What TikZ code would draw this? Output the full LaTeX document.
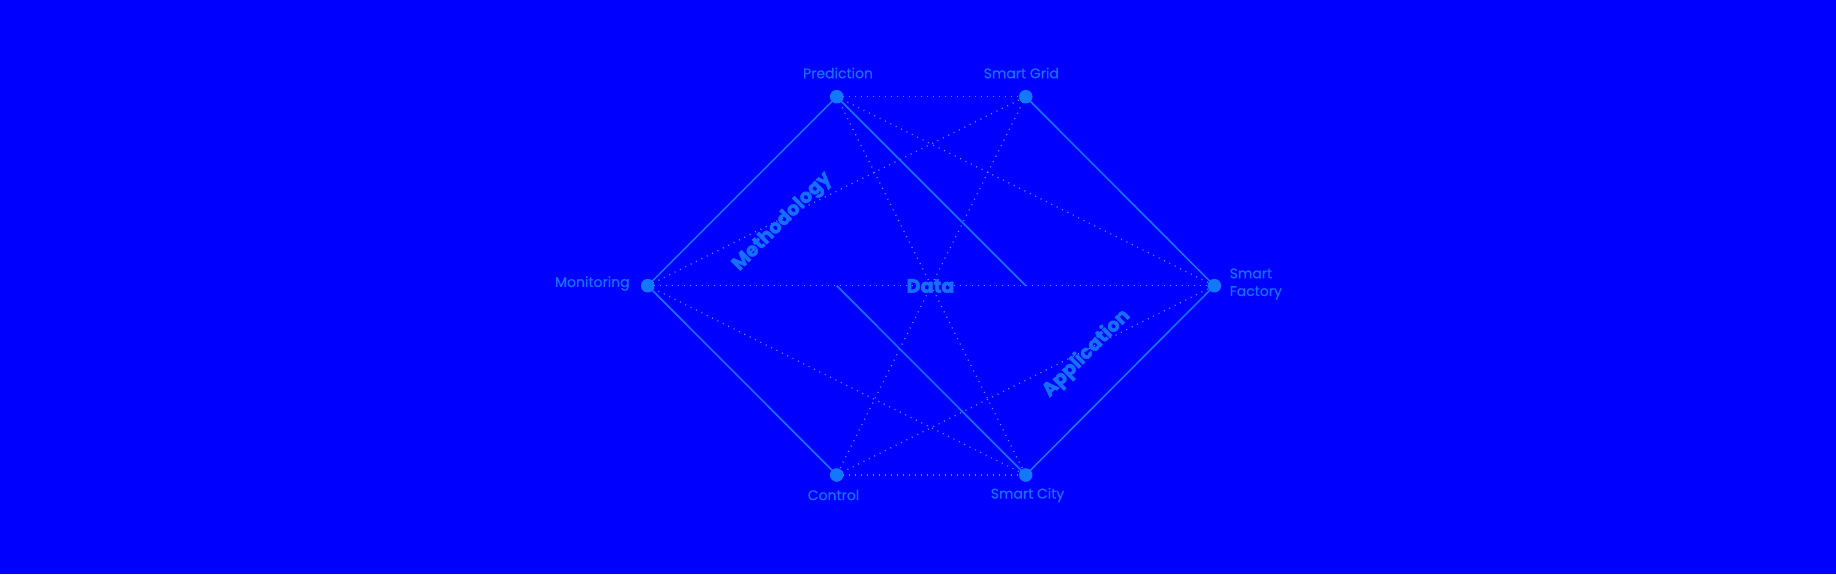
\documentclass[tikz,border=0pt]{standalone}
\usepackage{fontspec}
\setmainfont{Poppins}
\newfontfamily\heavyfont{Poppins}[BoldFeatures={FakeBold=2.5}]
\newfontfamily\medfont{Poppins}[FakeBold=0.5]
\definecolor{bg}{RGB}{0,0,255}
\definecolor{ln}{RGB}{20,120,255}
\definecolor{dt}{RGB}{95,135,255}
\definecolor{tx}{RGB}{22,112,255}
\begin{document}
\begin{tikzpicture}[x=0.5pt,y=-0.5pt,
  dotnode/.style={circle,fill=ln,inner sep=0pt,minimum size=6.8pt},
  lbl/.style={text=tx,font=\medfont\fontsize{7}{8.85}\selectfont,inner sep=0pt},
  big/.style={text=tx,font=\heavyfont\bfseries\fontsize{9.6}{11}\selectfont,inner sep=0pt},
  solidline/.style={draw=ln,line width=0.75pt},
  dotline/.style={draw=dt,line width=0.65pt,dash pattern=on 0.5pt off 2.5pt}]
\fill[bg] (0,0) rectangle (1836,574);
\useasboundingbox (0,0) rectangle (1836,574);
\coordinate (P) at (836.7,96.7);
\coordinate (G) at (1025.7,96.7);
\coordinate (M) at (647.7,285.7);
\coordinate (F) at (1214.3,285.7);
\coordinate (C) at (836.7,475);
\coordinate (S) at (1025.7,475);
\coordinate (mid1) at (1025.7,285.7);
\coordinate (mid2) at (836.7,285.7);
% dotted
\draw[dotline] (P) -- (G);
\draw[dotline] (C) -- (S);
\draw[dotline] (M) -- (F);
\draw[dotline] (M) -- (G);
\draw[dotline] (M) -- (S);
\draw[dotline] (P) -- (F);
\draw[dotline] (C) -- (F);
\draw[dotline] (P) -- (S);
\draw[dotline] (G) -- (C);
% solid
\draw[solidline] (M) -- (P);
\draw[solidline] (M) -- (C);
\draw[solidline] (G) -- (F);
\draw[solidline] (S) -- (F);
\draw[solidline] (P) -- (mid1);
\draw[solidline] (mid2) -- (S);
% dots
\node[dotnode] (nP) at (P) {};
\node[dotnode] (nG) at (G) {};
\node[dotnode] (nM) at (M) {};
\node[dotnode] (nF) at (F) {};
\node[dotnode] (nC) at (C) {};
\node[dotnode] (nS) at (S) {};
% labels
\node[lbl] (tP) at (838,73) {Prediction};
\node[lbl] (tG) at (1021.3,73) {Smart Grid};
\node[lbl,anchor=east] (tM) at (630,283.5) {Monitoring};
\node[lbl,anchor=west,align=left] (tF) at (1229.3,284) {Smart\\Factory};
\node[lbl] (tC) at (833.5,495) {Control};
\node[lbl] (tS) at (1027.5,495) {Smart City};
\node[big] (tD) at (930.5,286) {Data};
\node[big,rotate=45] (tMe) at (782.5,222) {Methodology};
\node[big,rotate=45] (tA) at (1086.5,353.5) {Application};
\end{tikzpicture}
\end{document}
